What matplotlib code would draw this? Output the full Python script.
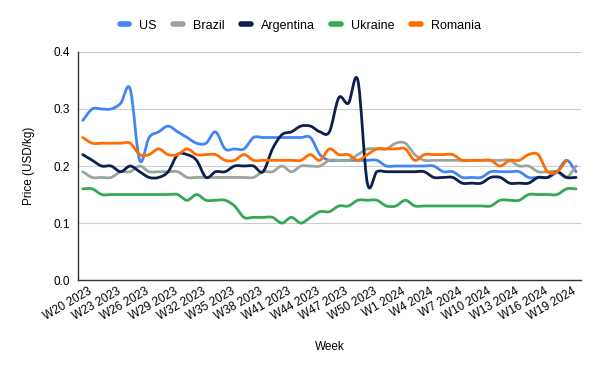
import numpy as np
import matplotlib.pyplot as plt
import matplotlib.transforms as mtransforms
from matplotlib.path import Path
from matplotlib.patches import PathPatch
from matplotlib.lines import Line2D

# weekly prices, W20 2023 .. W20 2024
weeks = [f'W{w} 2023' for w in range(20, 53)] + [f'W{w} 2024' for w in range(1, 21)]

us = [0.28, 0.30, 0.30, 0.30, 0.31, 0.335, 0.21, 0.25, 0.26, 0.27, 0.26, 0.25, 0.24,
      0.24, 0.26, 0.23, 0.23, 0.23, 0.25, 0.25, 0.25, 0.25, 0.25, 0.25, 0.25, 0.22,
      0.21, 0.21, 0.21, 0.21, 0.21, 0.21, 0.20, 0.20, 0.20, 0.20, 0.20, 0.20, 0.19,
      0.19, 0.18, 0.18, 0.18, 0.19, 0.19, 0.19, 0.19, 0.18, 0.18, 0.18, 0.19, 0.21, 0.19]
brazil = [0.19, 0.18, 0.18, 0.18, 0.19, 0.19, 0.20, 0.19, 0.19, 0.19, 0.19, 0.18, 0.18,
          0.18, 0.18, 0.18, 0.18, 0.18, 0.18, 0.19, 0.19, 0.20, 0.19, 0.20, 0.20, 0.20,
          0.21, 0.21, 0.21, 0.22, 0.23, 0.23, 0.23, 0.24, 0.24, 0.22, 0.21, 0.21, 0.21,
          0.21, 0.21, 0.21, 0.21, 0.21, 0.21, 0.21, 0.20, 0.20, 0.19, 0.19, 0.19, 0.18, 0.20]
argentina = [0.22, 0.21, 0.20, 0.20, 0.19, 0.20, 0.19, 0.18, 0.18, 0.19, 0.22, 0.22, 0.21,
             0.18, 0.19, 0.19, 0.20, 0.20, 0.20, 0.19, 0.23, 0.255, 0.26, 0.27, 0.27, 0.26,
             0.26, 0.32, 0.31, 0.35, 0.17, 0.19, 0.19, 0.19, 0.19, 0.19, 0.19, 0.18, 0.18,
             0.18, 0.17, 0.17, 0.17, 0.18, 0.18, 0.17, 0.17, 0.17, 0.18, 0.18, 0.19, 0.18, 0.18]
ukraine = [0.16, 0.16, 0.15, 0.15, 0.15, 0.15, 0.15, 0.15, 0.15, 0.15, 0.15, 0.14, 0.15,
           0.14, 0.14, 0.14, 0.13, 0.11, 0.11, 0.11, 0.11, 0.10, 0.11, 0.10, 0.11, 0.12,
           0.12, 0.13, 0.13, 0.14, 0.14, 0.14, 0.13, 0.13, 0.14, 0.13, 0.13, 0.13, 0.13,
           0.13, 0.13, 0.13, 0.13, 0.13, 0.14, 0.14, 0.14, 0.15, 0.15, 0.15, 0.15, 0.16, 0.16]
romania = [0.25, 0.24, 0.24, 0.24, 0.24, 0.24, 0.22, 0.22, 0.23, 0.22, 0.22, 0.23, 0.22,
           0.22, 0.22, 0.21, 0.21, 0.22, 0.21, 0.21, 0.21, 0.21, 0.21, 0.21, 0.22, 0.21,
           0.23, 0.22, 0.22, 0.21, 0.22, 0.23, 0.23, 0.23, 0.23, 0.21, 0.22, 0.22, 0.22,
           0.22, 0.21, 0.21, 0.21, 0.21, 0.20, 0.21, 0.21, 0.22, 0.22, 0.19, 0.19, 0.21, np.nan]

names = ['US', 'Brazil', 'Argentina', 'Ukraine', 'Romania']
colors = ['#4285F4', '#9BA59C', '#0D1F4F', '#34A853', '#FF6D01']


def smooth_path(x, y):
    # cubic bezier through every point (catmull-rom tangents), like the sheets "smooth" option
    ok = ~np.isnan(y)
    x, y = x[ok], y[ok]
    n = len(x)
    verts = [(x[0], y[0])]
    codes = [Path.MOVETO]
    for i in range(n - 1):
        i0 = max(i - 1, 0)
        i3 = min(i + 2, n - 1)
        d1 = (y[i + 1] - y[i0]) / (x[i + 1] - x[i0])
        d2 = (y[i3] - y[i]) / (x[i3] - x[i])
        h = (x[i + 1] - x[i]) / 3
        verts += [(x[i] + h, y[i] + d1 * h), (x[i + 1] - h, y[i + 1] - d2 * h), (x[i + 1], y[i + 1])]
        codes += [Path.CURVE4] * 3
    return Path(verts, codes)


plt.rcParams['font.family'] = ['Liberation Sans', 'DejaVu Sans']

fig = plt.figure(figsize=(6, 3.71), dpi=100)
ax = fig.add_axes([0.13, 0.245, 0.838, 0.615])

x = np.arange(len(weeks))
for vals, c in zip([us, brazil, argentina, ukraine, romania], colors):
    p = smooth_path(x.astype(float), np.array(vals, dtype=float))
    ax.add_patch(PathPatch(p, fill=False, edgecolor=c, lw=2, capstyle='round', joinstyle='round'))

ax.set_xlim(-0.5, len(weeks) - 0.5)
ax.set_ylim(0, 0.4)
ax.set_yticks([0, 0.1, 0.2, 0.3, 0.4])
ax.set_yticklabels(['0.0', '0.1', '0.2', '0.3', '0.4'], fontsize=8.5)
ax.tick_params(axis='y', length=0, pad=6)
ax.set_xticks(x[::3])
ax.set_xticklabels(weeks[::3], rotation=30, ha='right', rotation_mode='anchor', fontsize=8.5)
ax.tick_params(axis='x', length=0, pad=4)
# shift the slanted labels a little to the right, as in the original
shift = mtransforms.ScaledTranslation(4 / 72, 0, fig.dpi_scale_trans)
for lab in ax.get_xticklabels():
    lab.set_transform(lab.get_transform() + shift)

ax.grid(axis='y', color='#cccccc', lw=0.8)
ax.set_axisbelow(True)
for s in ['top', 'right']:
    ax.spines[s].set_visible(False)
for s in ['left', 'bottom']:
    ax.spines[s].set_color('#333333')
    ax.spines[s].set_linewidth(1)

ax.set_xlabel('Week', fontsize=8.5, labelpad=13)
ax.set_ylabel('Price (USD/kg)', fontsize=8.5, labelpad=13)

handles = [Line2D([0], [0], color=c, lw=4, solid_capstyle='round') for c in colors]
fig.legend(handles, names, loc='center', bbox_to_anchor=(0.5, 0.931), ncol=5, frameon=False,
           fontsize=9, handlelength=0.75, columnspacing=1.35, handletextpad=0.8)

fig.savefig('out.png', dpi=100)
